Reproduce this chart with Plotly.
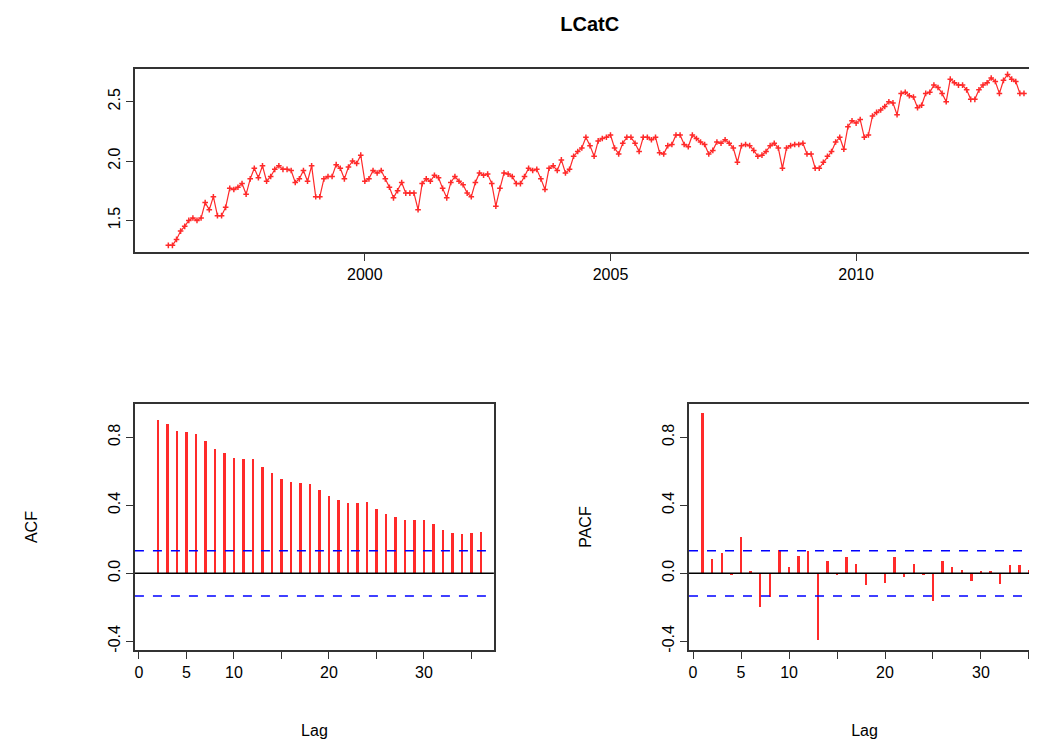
import plotly.graph_objects as go

series = [
 1.29,1.29,1.34,1.41,1.45,1.50,1.52,1.50,1.52,1.65,1.59,1.70,
 1.54,1.54,1.61,1.77,1.76,1.78,1.81,1.72,1.85,1.94,1.86,1.96,
 1.83,1.87,1.93,1.96,1.93,1.93,1.92,1.82,1.85,1.92,1.83,1.96,
 1.70,1.70,1.85,1.87,1.87,1.97,1.94,1.85,1.95,2.00,1.98,2.05,
 1.83,1.85,1.92,1.90,
 1.92,1.85,1.78,1.69,1.75,1.82,1.73,1.73,1.73,1.59,
 1.81,1.85,1.83,1.88,1.86,1.77,1.69,1.82,1.87,1.83,
 1.80,1.73,1.70,1.82,1.90,1.88,1.89,1.81,1.62,1.77,
 1.90,1.89,1.87,1.81,1.81,1.87,1.94,1.92,1.93,1.85,
 1.76,1.94,1.96,1.92,2.01,1.90,1.93,2.04,2.08,2.11,
 2.20,2.13,2.04,2.17,2.19,2.20,2.22,2.11,2.06,2.15,2.20,2.20,2.15,2.08,
 2.20,2.20,2.18,2.20,2.07,2.06,2.13,2.14,2.22,2.22,2.14,2.12,2.22,2.19,
 2.16,2.14,2.06,2.09,2.16,2.15,2.18,2.15,2.11,1.99,2.13,2.14,2.13,2.09,
 2.04,2.05,2.08,2.13,2.15,2.11,1.94,2.11,2.13,2.14,
 2.14,2.15,2.06,2.06,1.94,1.94,1.99,2.04,2.08,2.16,2.20,2.10,2.29,2.34,
 2.32,2.35,2.20,2.22,2.38,2.41,2.43,2.46,2.50,2.49,2.39,2.57,2.58,2.55,
 2.54,2.45,2.47,2.57,2.58,2.64,2.62,2.57,2.50,2.69,2.66,2.64,2.64,2.60,
 2.52,2.52,2.60,2.64,2.66,2.70,2.67,2.57,2.68,2.73,2.69,2.67,2.57,2.57]
start_year = 1996.0
times = [start_year + i / 12 for i in range(len(series))]

acf_lags = list(range(2, 37))
acf_vals = [0.90,0.88,0.84,0.835,0.82,0.78,0.73,0.71,0.68,0.675,0.675,0.625,0.59,
            0.556,0.54,0.533,0.525,0.49,0.457,0.433,0.414,0.414,0.423,0.38,0.347,
            0.33,0.316,0.316,0.316,0.289,0.256,0.24,0.23,0.24,0.246]
pacf_lags = list(range(1, 37))
pacf_vals = [0.944,0.086,0.12,-0.012,0.215,0.012,-0.199,-0.137,0.137,0.037,0.105,0.133,
             -0.395,0.07,-0.012,0.096,0.055,-0.07,0.0,-0.055,0.096,-0.02,0.055,-0.012,
             -0.164,0.07,0.039,0.02,-0.047,0.012,0.012,-0.062,0.047,0.047,0.02,0.037]
ci = 0.133

RED = "#ff2a2a"
fnt = dict(family="Liberation Sans, Arial", size=16, color="black")

fig = go.Figure()
fig.add_trace(go.Scatter(x=times, y=series, mode="lines+markers",
                         line=dict(color=RED, width=1.2),
                         marker=dict(symbol="cross-thin", size=4, line=dict(color=RED, width=1.5)),
                         xaxis="x", yaxis="y"))
fig.add_trace(go.Bar(x=acf_lags, y=acf_vals, width=0.25, marker=dict(color=RED, line_width=0),
                     xaxis="x2", yaxis="y2"))
fig.add_trace(go.Bar(x=pacf_lags, y=pacf_vals, width=0.25, marker=dict(color=RED, line_width=0),
                     xaxis="x3", yaxis="y3"))

for xa, ya, rng in [("x2", "y2", [-0.42, 37.37]), ("x3", "y3", [-0.42, 36.15])]:
    fig.add_shape(type="line", xref=xa, yref=ya, x0=rng[0], x1=rng[1], y0=0, y1=0,
                  line=dict(color="black", width=1.5))
    for s in (ci, -ci):
        fig.add_shape(type="line", xref=xa, yref=ya, x0=rng[0], x1=rng[1], y0=s, y1=s,
                      line=dict(color="blue", width=1.5, dash="dash"))

ax = dict(showgrid=False, zeroline=False, showline=True, mirror=True, linecolor="#333",
          linewidth=1.5, ticks="outside", ticklen=7, tickcolor="#333", tickfont=fnt)
lagvals = [0, 5, 10, 15, 20, 25, 30, 35]
lagtext = ["0", "5", "10", "", "20", "", "30", ""]
fig.update_layout(
    width=1037, height=742, margin=dict(l=0, r=0, t=0, b=0),
    paper_bgcolor="white", plot_bgcolor="white", showlegend=False, bargap=0,
    title=dict(text="<b>LCatC</b>", x=0.561, y=0.979, xanchor="center", yanchor="middle",
               font=dict(family="Liberation Sans, Arial", size=20, color="black")),
    xaxis=dict(ax, domain=[0.1224, 0.9903], range=[1995.32, 2013.64], tickvals=[2000, 2005, 2010]),
    yaxis=dict(ax, domain=[0.6698, 0.9178], range=[1.231, 2.777], tickvals=[1.5, 2.0, 2.5],
               ticktext=["1.5", "2.0", "2.5"], tickangle=-90),
    xaxis2=dict(ax, domain=[0.1224, 0.4686], range=[-0.42, 37.37], tickvals=lagvals, ticktext=lagtext,
                title=dict(text="Lag", font=fnt, standoff=45), anchor="y2"),
    yaxis2=dict(ax, domain=[0.1321, 0.4650], range=[-0.453, 0.997], tickvals=[-0.4, 0, 0.4, 0.8],
                ticktext=["-0.4", "0.0", "0.4", "0.8"], tickangle=-90,
                title=dict(text="ACF", font=fnt, standoff=64), anchor="x2"),
    xaxis3=dict(ax, domain=[0.6567, 0.9952], range=[-0.42, 36.15], tickvals=lagvals, ticktext=lagtext,
                title=dict(text="Lag", font=fnt, standoff=45), anchor="y3"),
    yaxis3=dict(ax, domain=[0.1321, 0.4650], range=[-0.453, 0.997], tickvals=[-0.4, 0, 0.4, 0.8],
                ticktext=["-0.4", "0.0", "0.4", "0.8"], tickangle=-90,
                title=dict(text="PACF", font=fnt, standoff=64), anchor="x3"),
)
fig.write_html("out.html")
